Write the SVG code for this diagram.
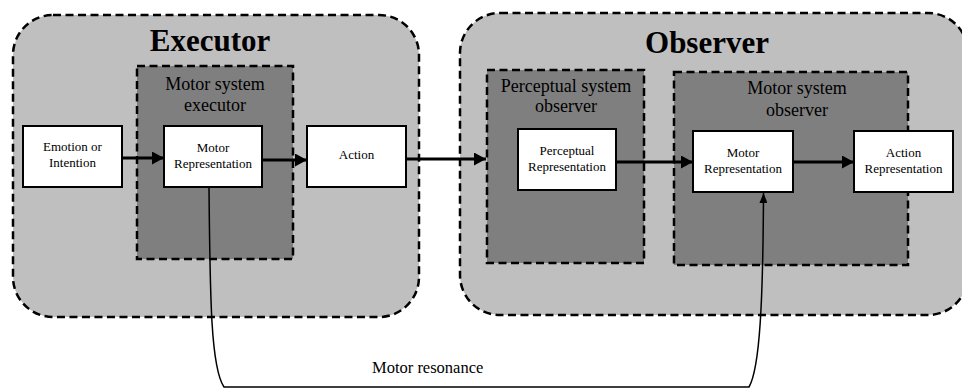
<svg xmlns="http://www.w3.org/2000/svg" width="962" height="388" viewBox="0 0 962 388">
  <style>
    .outer { fill: #bfbfbf; stroke: #000; stroke-width: 2.5; stroke-dasharray: 8 4.5; }
    .inner { fill: #7f7f7f; stroke: #000; stroke-width: 2.5; stroke-dasharray: 8 4.5; }
    .box { fill: #fff; stroke: #000; stroke-width: 2; }
    text { font-family: 'Liberation Serif', Times, 'DejaVu Serif', serif; fill: #000; text-anchor: middle; }
    .title { font-size: 31px; font-weight: bold; }
    .sys { font-size: 18px; }
    .lbl { font-size: 13px; }
    .note { font-size: 16.5px; text-anchor: start; }
    .flow { stroke: #000; stroke-width: 3; fill: none; marker-end: url(#head); }
    .res { stroke: #000; stroke-width: 1.5; fill: none; marker-end: url(#headSmall); }
  </style>
  <defs>
    <marker id="head" markerUnits="userSpaceOnUse" markerWidth="13" markerHeight="13" refX="12" refY="6.5" orient="auto">
      <path d="M0,0 L12,6.5 L0,13 Z" fill="#000"/>
    </marker>
    <marker id="headSmall" markerUnits="userSpaceOnUse" markerWidth="11" markerHeight="8" refX="10" refY="4" orient="auto">
      <path d="M0,0 L10,4 L0,8 Z" fill="#000"/>
    </marker>
  </defs>

  <!-- executor side -->
  <g id="executor">
    <rect class="outer" x="13" y="15" width="406" height="302" rx="40" ry="40"/>
    <text class="title" x="210" y="51">Executor</text>
  </g>
  <g id="motor-system-executor">
    <rect class="inner" x="137" y="66" width="156" height="193"/>
    <text class="sys" x="215" y="90">Motor system</text>
    <text class="sys" x="215" y="111">executor</text>
  </g>

  <!-- observer side -->
  <g id="observer">
    <rect class="outer" x="460" y="13" width="508" height="302" rx="40" ry="40"/>
    <text class="title" x="707" y="53">Observer</text>
  </g>
  <g id="perceptual-system-observer">
    <rect class="inner" x="487" y="70" width="157" height="193"/>
    <text class="sys" x="566" y="92">Perceptual system</text>
    <text class="sys" x="566" y="112">observer</text>
  </g>
  <g id="motor-system-observer">
    <rect class="inner" x="674" y="72" width="234" height="193"/>
    <text class="sys" x="797" y="94">Motor system</text>
    <text class="sys" x="797" y="116">observer</text>
  </g>

  <!-- process boxes -->
  <g id="emotion-intention">
    <rect class="box" x="23" y="126" width="99" height="61"/>
    <text class="lbl" x="72.5" y="151">Emotion or</text>
    <text class="lbl" x="72.5" y="167">Intention</text>
  </g>
  <g id="motor-representation-executor">
    <rect class="box" x="164" y="126" width="98" height="61"/>
    <text class="lbl" x="213" y="152">Motor</text>
    <text class="lbl" x="213" y="168">Representation</text>
  </g>
  <g id="action">
    <rect class="box" x="307" y="126" width="99" height="61"/>
    <text class="lbl" x="356.5" y="159">Action</text>
  </g>
  <g id="perceptual-representation">
    <rect class="box" x="518" y="129" width="98" height="61"/>
    <text class="lbl" x="567" y="155">Perceptual</text>
    <text class="lbl" x="567" y="171">Representation</text>
  </g>
  <g id="motor-representation-observer">
    <rect class="box" x="693" y="131" width="100" height="61"/>
    <text class="lbl" x="743" y="157">Motor</text>
    <text class="lbl" x="743" y="173">Representation</text>
  </g>
  <g id="action-representation">
    <rect class="box" x="854" y="131" width="99" height="61"/>
    <text class="lbl" x="903.5" y="157">Action</text>
    <text class="lbl" x="903.5" y="173">Representation</text>
  </g>

  <!-- connectors -->
  <g id="connectors">
    <line class="flow" x1="122" y1="158" x2="164" y2="158"/>
    <line class="flow" x1="262" y1="160" x2="307" y2="160"/>
    <line class="flow" x1="406" y1="159" x2="486" y2="159"/>
    <line class="flow" x1="616" y1="162" x2="693" y2="162"/>
    <line class="flow" x1="793" y1="162" x2="854" y2="162"/>
    <path class="res" d="M209,187 C210,300 211,368 224,387 L749,387 C760,368 763,300 763.5,193"/>
    <text class="note" x="372" y="373">Motor resonance</text>
  </g>
</svg>
